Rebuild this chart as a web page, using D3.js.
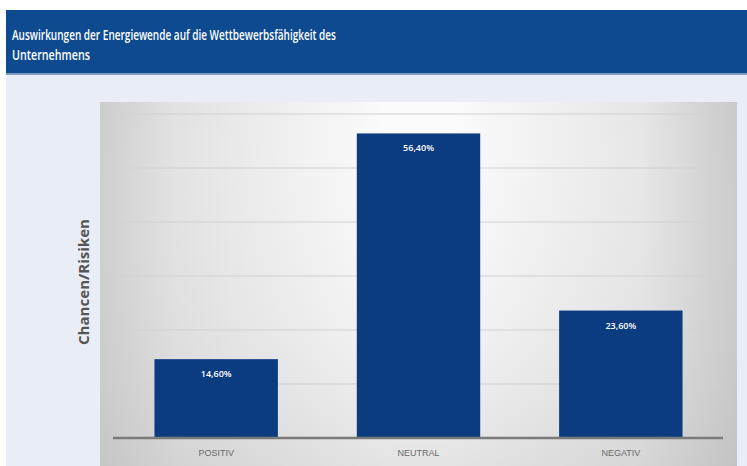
<!DOCTYPE html>
<html><head><meta charset="utf-8">
<script src="https://cdn.jsdelivr.net/npm/d3@7"></script>
<style>body{margin:0;background:#fff;}svg{display:block;}</style>
</head><body>
<svg id="c" width="747" height="466"></svg>
<script>
const titleLines = ["Auswirkungen der Energiewende auf die Wettbewerbsfähigkeit des", "Unternehmens"];
const categories = ["POSITIV", "NEUTRAL", "NEGATIV"];
const values = [14.6, 56.4, 23.6];
const valueLabels = ["14,60%", "56,40%", "23,60%"];
const yTicks = [0, 10, 20, 30, 40, 50, 60];
const yTitle = "Chancen/Risiken";

const svg = d3.select("#c");
const defs = svg.append("defs");
const g1 = defs.append("linearGradient").attr("id","pg").attr("x1","0").attr("x2","1").attr("y1","0").attr("y2","0");
[[0,"#cdcdcd"],[0.12,"#e2e2e2"],[0.45,"#fbfbfb"],[0.55,"#fbfbfb"],[0.85,"#e6e6e6"],[1,"#c9c9c9"]].forEach(s=>g1.append("stop").attr("offset",s[0]).attr("stop-color",s[1]));
const g2 = defs.append("linearGradient").attr("id","pv").attr("x1","0").attr("x2","0").attr("y1","0").attr("y2","1");
[[0,"#ffffff",0],[0.6,"#d0d0d0",0.15],[1,"#b8b8b8",0.35]].forEach(s=>g2.append("stop").attr("offset",s[0]).attr("stop-color",s[1]).attr("stop-opacity",s[2]));

// background
svg.append("rect").attr("x",6).attr("y",74).attr("width",741).attr("height",392).attr("fill","#e9eef6");
// header
svg.append("rect").attr("x",6).attr("y",10).attr("width",741).attr("height",64).attr("fill","#0d4a8f");
svg.append("rect").attr("x",6).attr("y",73).attr("width",741).attr("height",2).attr("fill","#7f9cc2");
svg.append("g").selectAll("text").data(titleLines).join("text")
  .attr("x",12).attr("y",(d,i)=>40+i*20)
  .attr("fill","#fff").attr("font-family","'Open Sans', sans-serif").attr("font-weight",600).attr("font-size",14)
  .attr("textLength",(d,i)=>i===0?324:78).attr("lengthAdjust","spacingAndGlyphs")
  .text(d=>d);

// panel
svg.append("rect").attr("x",100).attr("y",102).attr("width",637).attr("height",364).attr("fill","url(#pg)");
svg.append("rect").attr("x",100).attr("y",102).attr("width",637).attr("height",364).attr("fill","url(#pv)");

const x = d3.scaleBand().domain(categories).range([115,722]).paddingInner(0.39).paddingOuter(0.195);
const y = d3.scaleLinear().domain([0,60]).range([438,114]);

// gridlines
svg.append("g").attr("class","grid").selectAll("line").data(yTicks.slice(1)).join("line")
  .attr("x1",115).attr("x2",722).attr("y1",d=>y(d)).attr("y2",d=>y(d))
  .attr("stroke","#d2d2d2").attr("stroke-width",1.2);

// bars
svg.append("g").selectAll("rect").data(values).join("rect")
  .attr("x",(d,i)=>x(categories[i])).attr("width",x.bandwidth())
  .attr("y",d=>y(d)).attr("height",d=>y(0)-y(d))
  .attr("fill","#0b3c80");

// value labels
svg.append("g").selectAll("text").data(values).join("text")
  .attr("x",(d,i)=>x(categories[i])+x.bandwidth()/2).attr("y",d=>y(d)+18)
  .attr("text-anchor","middle").attr("fill","#fff")
  .attr("font-family","'Open Sans', sans-serif").attr("font-size",9).attr("font-weight",600)
  .text((d,i)=>valueLabels[i]);

// x axis
const xAxis = svg.append("g").attr("transform","translate(0,438)").call(d3.axisBottom(x).tickSize(0).tickPadding(12));
xAxis.select(".domain").attr("stroke","#7a7a7a").attr("stroke-width",2.5).attr("d","M113,0H723");
xAxis.selectAll("text").attr("fill","#6a6a6a").attr("font-family","'Liberation Sans', sans-serif").attr("font-size",9);

// y title
svg.append("text").attr("transform","translate(89,282) rotate(-90)")
  .attr("text-anchor","middle").attr("fill","#555").attr("font-family","'Open Sans', sans-serif")
  .attr("font-weight",700).attr("font-size",14).attr("textLength",126).attr("lengthAdjust","spacingAndGlyphs")
  .text(yTitle);
</script>
</body></html>
